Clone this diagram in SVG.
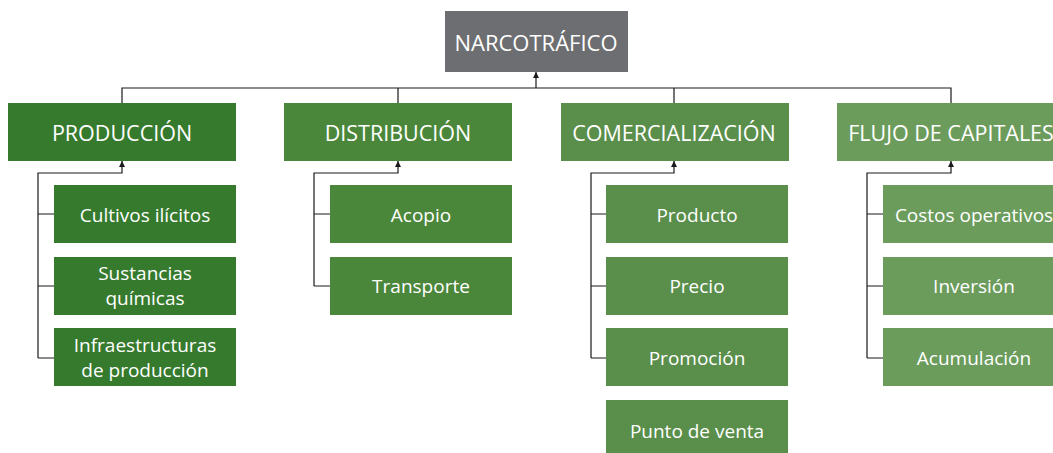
<svg xmlns="http://www.w3.org/2000/svg" width="1053" height="453" viewBox="0 0 1053 453">
<style>
text{font-family:"Open Sans","Liberation Sans",sans-serif;fill:#fff;text-anchor:middle;dominant-baseline:central}
.t0{font-size:22px}
.t1{font-size:21.5px}
.t2{font-size:19px}
.c1{fill:#367a2e}.c2{fill:#4b873b}.c3{fill:#5a8e4b}.c4{fill:#6b9c5c}
.ln{fill:none;stroke:#1a1a1a;stroke-width:1.2}
</style>
<defs>
<marker id="ah" viewBox="0 0 6 6" refX="6" refY="3" markerWidth="6" markerHeight="6" markerUnits="userSpaceOnUse" orient="auto"><path d="M0,0L6,3L0,6z" fill="#1a1a1a"/></marker>
</defs>
<g id="connectors">
<path class="ln" d="M536,88V72" marker-end="url(#ah)"/>
<path class="ln" d="M122,103V88H951V103M398,88V103M674,88V103"/>
<path class="ln" d="M38,358V173H122V161" marker-end="url(#ah)"/>
<path class="ln" d="M38,214H54M38,286H54M38,358H54"/>
<path class="ln" d="M314,286V173H398V161" marker-end="url(#ah)"/>
<path class="ln" d="M314,214H330M314,286H330"/>
<path class="ln" d="M591,358V173H674V161" marker-end="url(#ah)"/>
<path class="ln" d="M591,214H606M591,286H606M591,358H606"/>
<path class="ln" d="M867,358V173H951V161" marker-end="url(#ah)"/>
<path class="ln" d="M867,214H883M867,286H883M867,358H883"/>
</g>
<g id="narcotrafico"><rect x="445" y="11" width="183" height="61" fill="#6d6e71"/><text class="t0" x="536" y="42">NARCOTRÁFICO</text></g>
<g id="produccion"><rect class="c1" x="8" y="103" width="228" height="58"/><text class="t1" x="122" y="132">PRODUCCIÓN</text></g>
<g id="distribucion"><rect class="c2" x="284" y="103" width="228" height="58"/><text class="t1" x="398" y="132">DISTRIBUCIÓN</text></g>
<g id="comercializacion"><rect class="c3" x="561" y="103" width="228" height="58"/><text class="t1" x="674" y="132">COMERCIALIZACIÓN</text></g>
<g id="flujo"><rect class="c4" x="837" y="103" width="228" height="58"/><text class="t1" x="951" y="132">FLUJO DE CAPITALES</text></g>
<g id="cultivos"><rect class="c1" x="54" y="185" width="182" height="58"/><text class="t2" x="145" y="215">Cultivos ilícitos</text></g>
<g id="sustancias"><rect class="c1" x="54" y="257" width="182" height="58"/><text class="t2" x="145" y="273">Sustancias</text><text class="t2" x="145" y="298">químicas</text></g>
<g id="infraestructuras"><rect class="c1" x="54" y="328" width="182" height="58"/><text class="t2" x="145" y="345">Infraestructuras</text><text class="t2" x="145" y="370">de producción</text></g>
<g id="acopio"><rect class="c2" x="330" y="185" width="182" height="58"/><text class="t2" x="421" y="215">Acopio</text></g>
<g id="transporte"><rect class="c2" x="330" y="257" width="182" height="58"/><text class="t2" x="421" y="286">Transporte</text></g>
<g id="producto"><rect class="c3" x="606" y="185" width="182" height="58"/><text class="t2" x="697" y="215">Producto</text></g>
<g id="precio"><rect class="c3" x="606" y="257" width="182" height="58"/><text class="t2" x="697" y="286">Precio</text></g>
<g id="promocion"><rect class="c3" x="606" y="328" width="182" height="58"/><text class="t2" x="697" y="358">Promoción</text></g>
<g id="puntoventa"><rect class="c3" x="606" y="400" width="182" height="58"/><text class="t2" x="697" y="431">Punto de venta</text></g>
<g id="costos"><rect class="c4" x="883" y="185" width="182" height="58"/><text class="t2" x="974" y="215">Costos operativos</text></g>
<g id="inversion"><rect class="c4" x="883" y="257" width="182" height="58"/><text class="t2" x="974" y="286">Inversión</text></g>
<g id="acumulacion"><rect class="c4" x="883" y="328" width="182" height="58"/><text class="t2" x="974" y="358">Acumulación</text></g>
</svg>
